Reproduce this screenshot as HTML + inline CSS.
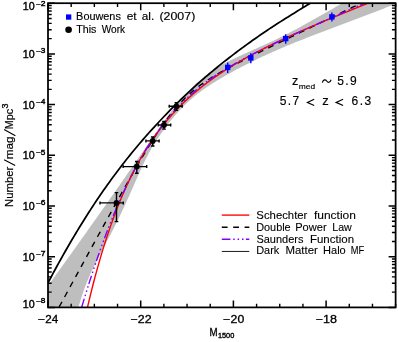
<!DOCTYPE html>
<html><head><meta charset="utf-8"><title>LF</title>
<style>
html,body{margin:0;padding:0;background:#fff;}
svg{display:block;}
text{font-family:"Liberation Sans",sans-serif;fill:#000;stroke:#000;stroke-width:0.2px;}
#w{width:399px;height:342px;will-change:transform;}
</style></head><body><div id="w">
<svg width="399" height="342" viewBox="0 0 399 342">
<rect x="0" y="0" width="399" height="342" fill="#fff"/>
<defs><clipPath id="c"><rect x="48.00" y="3.20" width="347.62" height="304.20"/></clipPath></defs>
<g clip-path="url(#c)" fill="none" stroke-linecap="butt" stroke-linejoin="round">
<path d="M29.46,310.76 L30.80,308.97 L32.14,307.18 L33.48,305.39 L34.82,303.59 L36.16,301.79 L37.50,299.98 L38.84,298.18 L40.18,296.36 L41.52,294.55 L42.86,292.73 L44.20,290.91 L45.54,289.08 L46.88,287.25 L48.22,285.42 L49.56,283.59 L50.90,281.75 L52.24,279.91 L53.58,278.07 L54.92,276.22 L56.26,274.37 L57.61,272.52 L58.95,270.67 L60.29,268.81 L61.63,266.95 L62.97,265.09 L64.31,263.23 L65.65,261.36 L66.99,259.49 L68.33,257.62 L69.67,255.75 L71.01,253.88 L72.35,252.00 L73.69,250.12 L75.03,248.24 L76.37,246.36 L77.71,244.48 L79.05,242.59 L80.39,240.71 L81.73,238.82 L83.07,236.93 L84.41,235.05 L85.75,233.16 L87.09,231.26 L88.43,229.37 L89.77,227.48 L91.11,225.59 L92.45,223.69 L93.79,221.80 L95.13,219.91 L96.47,218.01 L97.81,216.12 L99.15,214.22 L100.49,212.33 L101.83,210.43 L103.17,208.54 L104.51,206.64 L105.85,204.74 L107.19,202.83 L108.53,200.93 L109.87,199.03 L111.21,197.12 L112.55,195.21 L113.90,193.30 L115.24,191.38 L116.58,189.47 L117.92,187.55 L119.26,185.63 L120.60,183.70 L121.94,181.78 L123.28,179.85 L124.62,177.92 L125.96,175.99 L127.30,174.05 L128.64,172.12 L129.98,170.18 L131.32,168.25 L132.66,166.31 L134.00,164.37 L135.34,162.43 L136.68,160.48 L138.02,158.54 L139.36,156.60 L140.70,154.65 L142.04,152.71 L143.38,150.76 L144.72,148.81 L146.06,146.87 L147.40,144.93 L148.74,142.98 L150.08,141.04 L151.42,139.10 L152.76,137.17 L154.10,135.23 L155.44,133.31 L156.78,131.38 L158.12,129.47 L159.46,127.56 L160.80,125.66 L162.14,123.78 L163.48,121.91 L164.82,120.06 L166.16,118.22 L167.50,116.41 L168.85,114.61 L170.19,112.83 L171.53,111.08 L172.87,109.35 L174.21,107.65 L175.55,105.97 L176.89,104.32 L178.23,102.70 L179.57,101.10 L180.91,99.53 L182.25,97.99 L183.59,96.48 L184.93,95.00 L186.27,93.54 L187.61,92.11 L188.95,90.71 L190.29,89.34 L191.63,88.00 L192.97,86.68 L194.31,85.38 L195.65,84.12 L196.99,82.87 L198.33,81.66 L199.67,80.47 L201.01,79.30 L202.35,78.16 L203.69,77.05 L205.03,75.97 L206.37,74.91 L207.71,73.88 L209.05,72.88 L210.39,71.90 L211.73,70.96 L213.07,70.05 L214.41,69.16 L215.75,68.31 L217.09,67.48 L218.43,66.69 L219.77,65.91 L221.11,65.16 L222.45,64.43 L223.79,63.72 L225.14,63.02 L226.48,62.34 L227.82,61.67 L229.16,61.00 L230.50,60.34 L231.84,59.69 L233.18,59.05 L234.52,58.41 L235.86,57.78 L237.20,57.15 L238.54,56.53 L239.88,55.91 L241.22,55.30 L242.56,54.69 L243.90,54.08 L245.24,53.47 L246.58,52.87 L247.92,52.26 L249.26,51.66 L250.60,51.06 L251.94,50.46 L253.28,49.86 L254.62,49.26 L255.96,48.66 L257.30,48.05 L258.64,47.45 L259.98,46.85 L261.32,46.24 L262.66,45.63 L264.00,45.02 L265.34,44.41 L266.68,43.80 L268.02,43.18 L269.36,42.56 L270.70,41.93 L272.04,41.30 L273.38,40.67 L274.72,40.04 L276.06,39.39 L277.40,38.75 L278.74,38.10 L280.09,37.44 L281.43,36.78 L282.77,36.11 L284.11,35.44 L285.45,34.76 L286.79,34.08 L288.13,33.40 L289.47,32.71 L290.81,32.01 L292.15,31.31 L293.49,30.61 L294.83,29.90 L296.17,29.18 L297.51,28.47 L298.85,27.75 L300.19,27.02 L301.53,26.30 L302.87,25.57 L304.21,24.83 L305.55,24.09 L306.89,23.35 L308.23,22.61 L309.57,21.87 L310.91,21.12 L312.25,20.37 L313.59,19.61 L314.93,18.86 L316.27,18.10 L317.61,17.34 L318.95,16.58 L320.29,15.82 L321.63,15.05 L322.97,14.29 L324.31,13.52 L325.65,12.75 L326.99,11.99 L328.33,11.22 L329.67,10.45 L331.01,9.67 L332.35,8.90 L333.69,8.13 L335.03,7.36 L336.38,6.59 L337.72,5.82 L339.06,5.05 L340.40,4.28 L341.74,3.51 L343.08,2.74 L344.42,1.97 L345.76,1.20 L347.10,0.43 L348.44,-0.33 L349.78,-1.10 L351.12,-1.86 L352.46,-2.62 L353.80,-3.38 L355.14,-4.14 L356.48,-4.89 L357.82,-5.64 L359.16,-6.40 L360.50,-7.14 L361.84,-7.89 L363.18,-8.63 L402.58,0.77 L401.26,1.33 L399.93,1.89 L398.61,2.44 L397.29,2.99 L395.97,3.54 L394.65,4.09 L393.33,4.63 L392.00,5.18 L390.68,5.72 L389.36,6.25 L388.04,6.79 L386.72,7.32 L385.40,7.85 L384.07,8.38 L382.75,8.91 L381.43,9.43 L380.11,9.95 L378.79,10.47 L377.47,10.99 L376.14,11.51 L374.82,12.02 L373.50,12.54 L372.18,13.05 L370.86,13.56 L369.54,14.07 L368.22,14.58 L366.89,15.08 L365.57,15.59 L364.25,16.09 L362.93,16.60 L361.61,17.10 L360.29,17.60 L358.96,18.10 L357.64,18.60 L356.32,19.10 L355.00,19.60 L353.68,20.09 L352.36,20.59 L351.03,21.09 L349.71,21.58 L348.39,22.08 L347.07,22.57 L345.75,23.07 L344.43,23.56 L343.10,24.06 L341.78,24.55 L340.46,25.04 L339.14,25.54 L337.82,26.03 L336.50,26.53 L335.17,27.02 L333.85,27.52 L332.53,28.01 L331.21,28.51 L329.89,29.01 L328.57,29.51 L327.24,30.00 L325.92,30.50 L324.60,31.00 L323.28,31.50 L321.96,32.00 L320.64,32.51 L319.32,33.01 L317.99,33.51 L316.67,34.02 L315.35,34.53 L314.03,35.03 L312.71,35.54 L311.39,36.05 L310.06,36.57 L308.74,37.08 L307.42,37.60 L306.10,38.11 L304.78,38.63 L303.46,39.15 L302.13,39.68 L300.81,40.20 L299.49,40.73 L298.17,41.26 L296.85,41.79 L295.53,42.32 L294.20,42.86 L292.88,43.39 L291.56,43.94 L290.24,44.48 L288.92,45.02 L287.60,45.57 L286.27,46.12 L284.95,46.68 L283.63,47.24 L282.31,47.80 L280.99,48.36 L279.67,48.92 L278.34,49.49 L277.02,50.07 L275.70,50.64 L274.38,51.22 L273.06,51.81 L271.74,52.39 L270.41,52.99 L269.09,53.58 L267.77,54.18 L266.45,54.78 L265.13,55.39 L263.81,56.00 L262.49,56.62 L261.16,57.24 L259.84,57.86 L258.52,58.49 L257.20,59.12 L255.88,59.76 L254.56,60.40 L253.23,61.05 L251.91,61.70 L250.59,62.35 L249.27,63.01 L247.95,63.67 L246.63,64.34 L245.30,65.01 L243.98,65.68 L242.66,66.36 L241.34,67.04 L240.02,67.73 L238.70,68.42 L237.37,69.12 L236.05,69.82 L234.73,70.53 L233.41,71.24 L232.09,71.95 L230.77,72.68 L229.44,73.40 L228.12,74.14 L226.80,74.88 L225.48,75.62 L224.16,76.38 L222.84,77.14 L221.51,77.91 L220.19,78.68 L218.87,79.47 L217.55,80.26 L216.23,81.07 L214.91,81.88 L213.58,82.71 L212.26,83.54 L210.94,84.39 L209.62,85.25 L208.30,86.13 L206.98,87.02 L205.66,87.93 L204.33,88.85 L203.01,89.79 L201.69,90.74 L200.37,91.72 L199.05,92.72 L197.73,93.74 L196.40,94.78 L195.08,95.84 L193.76,96.93 L192.44,98.04 L191.12,99.18 L189.80,100.35 L188.47,101.55 L187.15,102.77 L185.83,104.02 L184.51,105.31 L183.19,106.63 L181.87,107.97 L180.54,109.35 L179.22,110.77 L177.90,112.22 L176.58,113.70 L175.26,115.21 L173.94,116.76 L172.61,118.34 L171.29,119.95 L169.97,121.60 L168.65,123.28 L167.33,124.99 L166.01,126.73 L164.68,128.50 L163.36,130.31 L162.04,132.14 L160.72,133.99 L159.40,135.88 L158.08,137.81 L156.75,139.79 L155.43,141.82 L154.11,143.92 L152.79,146.09 L151.47,148.34 L150.15,150.68 L148.83,153.11 L147.50,155.64 L146.18,158.26 L144.86,160.96 L143.54,163.73 L142.22,166.56 L140.90,169.44 L139.57,172.37 L138.25,175.32 L136.93,178.29 L135.61,181.27 L134.29,184.26 L132.97,187.24 L131.64,190.22 L130.32,193.19 L129.00,196.15 L127.68,199.09 L126.36,202.01 L125.04,204.91 L123.71,207.78 L122.39,210.61 L121.07,213.41 L119.75,216.17 L118.43,218.89 L117.11,221.57 L115.78,224.21 L114.46,226.83 L113.14,229.41 L111.82,231.98 L110.50,234.52 L109.18,237.05 L107.85,239.57 L106.53,242.08 L105.21,244.59 L103.89,247.10 L102.57,249.61 L101.25,252.13 L99.93,254.67 L98.60,257.22 L97.28,259.79 L95.96,262.39 L94.64,265.02 L93.32,267.71 L92.00,270.47 L90.67,273.32 L89.35,276.28 L88.03,279.38 L86.71,282.62 L85.39,286.04 L84.07,289.64 L82.74,293.44 L81.42,297.45 L80.10,301.66 L78.78,306.07 L77.46,310.70 L76.14,315.53 L74.81,320.57 L73.49,325.83 L20,325.8 Z" fill="#bebebe" stroke="none"/>
<path d="M38.73,344.37 L39.95,342.13 L41.18,339.88 L42.40,337.64 L43.63,335.39 L44.85,333.15 L46.08,330.90 L47.30,328.66 L48.53,326.41 L49.75,324.17 L50.98,321.92 L52.20,319.68 L53.43,317.44 L54.65,315.19 L55.87,312.95 L57.10,310.70 L58.32,308.46 L59.55,306.21 L60.77,303.97 L62.00,301.73 L63.22,299.48 L64.45,297.24 L65.67,294.99 L66.90,292.75 L68.12,290.51 L69.35,288.26 L70.57,286.02 L71.80,283.78 L73.02,281.54 L74.24,279.29 L75.47,277.05 L76.69,274.81 L77.92,272.57 L79.14,270.33 L80.37,268.09 L81.59,265.84 L82.82,263.60 L84.04,261.36 L85.27,259.12 L86.49,256.89 L87.72,254.65 L88.94,252.41 L90.16,250.17 L91.39,247.94 L92.61,245.70 L93.84,243.46 L95.06,241.23 L96.29,239.00 L97.51,236.76 L98.74,234.53 L99.96,232.30 L101.19,230.07 L102.41,227.84 L103.64,225.61 L104.86,223.39 L106.08,221.16 L107.31,218.94 L108.53,216.72 L109.76,214.50 L110.98,212.29 L112.21,210.07 L113.43,207.86 L114.66,205.65 L115.88,203.44 L117.11,201.24 L118.33,199.04 L119.56,196.84 L120.78,194.64 L122.00,192.45 L123.23,190.27 L124.45,188.09 L125.68,185.91 L126.90,183.74 L128.13,181.57 L129.35,179.41 L130.58,177.26 L131.80,175.11 L133.03,172.97 L134.25,170.84 L135.48,168.71 L136.70,166.60 L137.93,164.49 L139.15,162.40 L140.37,160.31 L141.60,158.23 L142.82,156.17 L144.05,154.12 L145.27,152.08 L146.50,150.06 L147.72,148.05 L148.95,146.06 L150.17,144.09 L151.40,142.13 L152.62,140.19 L153.85,138.27 L155.07,136.36 L156.29,134.48 L157.52,132.63 L158.74,130.79 L159.97,128.98 L161.19,127.19 L162.42,125.43 L163.64,123.69 L164.87,121.99 L166.09,120.30 L167.32,118.65 L168.54,117.03 L169.77,115.43 L170.99,113.87 L172.21,112.33 L173.44,110.83 L174.66,109.36 L175.89,107.91 L177.11,106.50 L178.34,105.12 L179.56,103.78 L180.79,102.46 L182.01,101.17 L183.24,99.91 L184.46,98.69 L185.69,97.49 L186.91,96.32 L188.14,95.18 L189.36,94.06 L190.58,92.97 L191.81,91.91 L193.03,90.87 L194.26,89.86 L195.48,88.87 L196.71,87.90 L197.93,86.96 L199.16,86.03 L200.38,85.13 L201.61,84.24 L202.83,83.37 L204.06,82.52 L205.28,81.68 L206.50,80.86 L207.73,80.05 L208.95,79.26 L210.18,78.48 L211.40,77.71 L212.63,76.96 L213.85,76.21 L215.08,75.48 L216.30,74.75 L217.53,74.04 L218.75,73.33 L219.98,72.63 L221.20,71.94 L222.42,71.25 L223.65,70.58 L224.87,69.90 L226.10,69.24 L227.32,68.57 L228.55,67.92 L229.77,67.27 L231.00,66.62 L232.22,65.97 L233.45,65.33 L234.67,64.70 L235.90,64.07 L237.12,63.44 L238.35,62.81 L239.57,62.18 L240.79,61.56 L242.02,60.94 L243.24,60.32 L244.47,59.71 L245.69,59.09 L246.92,58.48 L248.14,57.87 L249.37,57.26 L250.59,56.65 L251.82,56.05 L253.04,55.44 L254.27,54.84 L255.49,54.23 L256.71,53.63 L257.94,53.03 L259.16,52.43 L260.39,51.83 L261.61,51.23 L262.84,50.63 L264.06,50.04 L265.29,49.44 L266.51,48.84 L267.74,48.24 L268.96,47.65 L270.19,47.05 L271.41,46.46 L272.63,45.86 L273.86,45.27 L275.08,44.68 L276.31,44.08 L277.53,43.49 L278.76,42.89 L279.98,42.30 L281.21,41.71 L282.43,41.12 L283.66,40.52 L284.88,39.93 L286.11,39.34 L287.33,38.75 L288.55,38.16 L289.78,37.56 L291.00,36.97 L292.23,36.38 L293.45,35.79 L294.68,35.20 L295.90,34.61 L297.13,34.02 L298.35,33.42 L299.58,32.83 L300.80,32.24 L302.03,31.65 L303.25,31.06 L304.48,30.47 L305.70,29.88 L306.92,29.29 L308.15,28.70 L309.37,28.11 L310.60,27.52 L311.82,26.93 L313.05,26.34 L314.27,25.75 L315.50,25.15 L316.72,24.56 L317.95,23.97 L319.17,23.38 L320.40,22.79 L321.62,22.20 L322.84,21.61 L324.07,21.02 L325.29,20.43 L326.52,19.84 L327.74,19.25 L328.97,18.66 L330.19,18.07 L331.42,17.48 L332.64,16.89 L333.87,16.30 L335.09,15.71 L336.32,15.12 L337.54,14.53 L338.76,13.94 L339.99,13.35 L341.21,12.76 L342.44,12.17 L343.66,11.58 L344.89,10.99 L346.11,10.40 L347.34,9.81 L348.56,9.22 L349.79,8.63 L351.01,8.04 L352.24,7.45 L353.46,6.86 L354.69,6.27 L355.91,5.68 L357.13,5.09 L358.36,4.50 L359.58,3.91 L360.81,3.32 L362.03,2.73 L363.26,2.14 L364.48,1.55 L365.71,0.96 L366.93,0.37 L368.16,-0.22 L369.38,-0.81 L370.61,-1.40 L371.83,-1.99 L373.05,-2.58 L374.28,-3.17 L375.50,-3.76 L376.73,-4.35 L377.95,-4.94 L379.18,-5.53 L380.40,-6.12 L381.63,-6.71 L382.85,-7.31 L384.08,-7.90 L385.30,-8.49 L386.53,-9.08 L387.75,-9.67 L388.97,-10.26 L390.20,-10.85 L391.42,-11.44 L392.65,-12.03 L393.87,-12.62 L395.10,-13.21 L396.32,-13.80 L397.55,-14.39 L398.77,-14.98 L400.00,-15.57 L401.22,-16.16 L402.45,-16.75 L403.67,-17.34 L404.89,-17.93" stroke="#000" stroke-width="1.4" stroke-dasharray="5.9 5.5" stroke-dashoffset="3"/>
<path d="M75.47,365.04 L76.69,358.56 L77.92,352.22 L79.14,346.03 L80.37,339.97 L81.59,334.05 L82.82,328.26 L84.04,322.60 L85.27,317.06 L86.49,311.64 L87.72,306.35 L88.94,301.17 L90.16,296.10 L91.39,291.14 L92.61,286.29 L93.84,281.55 L95.06,276.90 L96.29,272.36 L97.51,267.92 L98.74,263.57 L99.96,259.32 L101.19,255.15 L102.41,251.08 L103.64,247.09 L104.86,243.18 L106.08,239.36 L107.31,235.62 L108.53,231.96 L109.76,228.37 L110.98,224.86 L112.21,221.42 L113.43,218.06 L114.66,214.76 L115.88,211.53 L117.11,208.37 L118.33,205.27 L119.56,202.24 L120.78,199.26 L122.00,196.35 L123.23,193.50 L124.45,190.70 L125.68,187.96 L126.90,185.27 L128.13,182.64 L129.35,180.06 L130.58,177.53 L131.80,175.05 L133.03,172.61 L134.25,170.23 L135.48,167.89 L136.70,165.59 L137.93,163.34 L139.15,161.13 L140.37,158.97 L141.60,156.84 L142.82,154.76 L144.05,152.71 L145.27,150.70 L146.50,148.73 L147.72,146.79 L148.95,144.89 L150.17,143.02 L151.40,141.19 L152.62,139.39 L153.85,137.62 L155.07,135.88 L156.29,134.18 L157.52,132.50 L158.74,130.85 L159.97,129.23 L161.19,127.64 L162.42,126.08 L163.64,124.54 L164.87,123.02 L166.09,121.54 L167.32,120.07 L168.54,118.63 L169.77,117.21 L170.99,115.82 L172.21,114.45 L173.44,113.10 L174.66,111.77 L175.89,110.46 L177.11,109.17 L178.34,107.91 L179.56,106.66 L180.79,105.42 L182.01,104.21 L183.24,103.02 L184.46,101.84 L185.69,100.68 L186.91,99.54 L188.14,98.41 L189.36,97.30 L190.58,96.20 L191.81,95.12 L193.03,94.05 L194.26,93.00 L195.48,91.96 L196.71,90.94 L197.93,89.92 L199.16,88.93 L200.38,87.94 L201.61,86.97 L202.83,86.01 L204.06,85.06 L205.28,84.12 L206.50,83.19 L207.73,82.27 L208.95,81.37 L210.18,80.47 L211.40,79.59 L212.63,78.71 L213.85,77.85 L215.08,76.99 L216.30,76.15 L217.53,75.31 L218.75,74.48 L219.98,73.66 L221.20,72.85 L222.42,72.05 L223.65,71.25 L224.87,70.46 L226.10,69.68 L227.32,68.91 L228.55,68.15 L229.77,67.39 L231.00,66.64 L232.22,65.89 L233.45,65.15 L234.67,64.42 L235.90,63.70 L237.12,62.98 L238.35,62.26 L239.57,61.56 L240.79,60.85 L242.02,60.16 L243.24,59.47 L244.47,58.78 L245.69,58.10 L246.92,57.42 L248.14,56.75 L249.37,56.09 L250.59,55.43 L251.82,54.77 L253.04,54.12 L254.27,53.47 L255.49,52.83 L256.71,52.19 L257.94,51.55 L259.16,50.92 L260.39,50.29 L261.61,49.67 L262.84,49.05 L264.06,48.43 L265.29,47.82 L266.51,47.21 L267.74,46.60 L268.96,46.00 L270.19,45.40 L271.41,44.80 L272.63,44.21 L273.86,43.62 L275.08,43.03 L276.31,42.44 L277.53,41.86 L278.76,41.28 L279.98,40.70 L281.21,40.13 L282.43,39.56 L283.66,38.99 L284.88,38.42 L286.11,37.85 L287.33,37.29 L288.55,36.73 L289.78,36.17 L291.00,35.62 L292.23,35.06 L293.45,34.51 L294.68,33.96 L295.90,33.41 L297.13,32.86 L298.35,32.32 L299.58,31.77 L300.80,31.23 L302.03,30.69 L303.25,30.16 L304.48,29.62 L305.70,29.08 L306.92,28.55 L308.15,28.02 L309.37,27.49 L310.60,26.96 L311.82,26.43 L313.05,25.91 L314.27,25.38 L315.50,24.86 L316.72,24.33 L317.95,23.81 L319.17,23.29 L320.40,22.77 L321.62,22.26 L322.84,21.74 L324.07,21.22 L325.29,20.71 L326.52,20.20 L327.74,19.68 L328.97,19.17 L330.19,18.66 L331.42,18.15 L332.64,17.64 L333.87,17.14 L335.09,16.63 L336.32,16.12 L337.54,15.62 L338.76,15.11 L339.99,14.61 L341.21,14.11 L342.44,13.60 L343.66,13.10 L344.89,12.60 L346.11,12.10 L347.34,11.60 L348.56,11.10 L349.79,10.61 L351.01,10.11 L352.24,9.61 L353.46,9.12 L354.69,8.62 L355.91,8.13 L357.13,7.63 L358.36,7.14 L359.58,6.64 L360.81,6.15 L362.03,5.66 L363.26,5.17 L364.48,4.68 L365.71,4.19 L366.93,3.70 L368.16,3.21 L369.38,2.72 L370.61,2.23 L371.83,1.74 L373.05,1.25 L374.28,0.76 L375.50,0.27 L376.73,-0.21 L377.95,-0.70 L379.18,-1.18 L380.40,-1.67 L381.63,-2.16 L382.85,-2.64 L384.08,-3.13 L385.30,-3.61 L386.53,-4.10 L387.75,-4.58 L388.97,-5.06 L390.20,-5.55 L391.42,-6.03 L392.65,-6.51 L393.87,-6.99 L395.10,-7.48 L396.32,-7.96 L397.55,-8.44 L398.77,-8.92 L400.00,-9.40 L401.22,-9.88 L402.45,-10.37 L403.67,-10.85 L404.89,-11.33" stroke="#ff0000" stroke-width="1.4"/>
<path d="M65.67,365.06 L66.90,360.36 L68.12,355.70 L69.35,351.09 L70.57,346.53 L71.80,342.02 L73.02,337.55 L74.24,333.13 L75.47,328.75 L76.69,324.42 L77.92,320.13 L79.14,315.90 L80.37,311.70 L81.59,307.56 L82.82,303.46 L84.04,299.40 L85.27,295.39 L86.49,291.42 L87.72,287.50 L88.94,283.63 L90.16,279.80 L91.39,276.02 L92.61,272.27 L93.84,268.58 L95.06,264.93 L96.29,261.32 L97.51,257.76 L98.74,254.24 L99.96,250.76 L101.19,247.33 L102.41,243.94 L103.64,240.59 L104.86,237.29 L106.08,234.03 L107.31,230.81 L108.53,227.63 L109.76,224.50 L110.98,221.41 L112.21,218.36 L113.43,215.35 L114.66,212.38 L115.88,209.45 L117.11,206.56 L118.33,203.72 L119.56,200.91 L120.78,198.15 L122.00,195.42 L123.23,192.73 L124.45,190.08 L125.68,187.47 L126.90,184.90 L128.13,182.36 L129.35,179.87 L130.58,177.41 L131.80,174.99 L133.03,172.60 L134.25,170.25 L135.48,167.94 L136.70,165.66 L137.93,163.42 L139.15,161.22 L140.37,159.04 L141.60,156.91 L142.82,154.80 L144.05,152.73 L145.27,150.69 L146.50,148.69 L147.72,146.72 L148.95,144.78 L150.17,142.87 L151.40,140.99 L152.62,139.14 L153.85,137.33 L155.07,135.54 L156.29,133.78 L157.52,132.06 L158.74,130.36 L159.97,128.69 L161.19,127.04 L162.42,125.43 L163.64,123.84 L164.87,122.28 L166.09,120.74 L167.32,119.23 L168.54,117.74 L169.77,116.28 L170.99,114.85 L172.21,113.44 L173.44,112.05 L174.66,110.68 L175.89,109.34 L177.11,108.02 L178.34,106.72 L179.56,105.44 L180.79,104.19 L182.01,102.95 L183.24,101.74 L184.46,100.54 L185.69,99.36 L186.91,98.21 L188.14,97.07 L189.36,95.95 L190.58,94.84 L191.81,93.76 L193.03,92.69 L194.26,91.64 L195.48,90.60 L196.71,89.58 L197.93,88.57 L199.16,87.58 L200.38,86.61 L201.61,85.64 L202.83,84.70 L204.06,83.76 L205.28,82.84 L206.50,81.93 L207.73,81.03 L208.95,80.15 L210.18,79.28 L211.40,78.42 L212.63,77.57 L213.85,76.73 L215.08,75.90 L216.30,75.08 L217.53,74.27 L218.75,73.47 L219.98,72.68 L221.20,71.90 L222.42,71.13 L223.65,70.37 L224.87,69.61 L226.10,68.86 L227.32,68.12 L228.55,67.39 L229.77,66.67 L231.00,65.95 L232.22,65.24 L233.45,64.53 L234.67,63.84 L235.90,63.14 L237.12,62.46 L238.35,61.78 L239.57,61.10 L240.79,60.43 L242.02,59.77 L243.24,59.11 L244.47,58.46 L245.69,57.81 L246.92,57.16 L248.14,56.52 L249.37,55.88 L250.59,55.25 L251.82,54.62 L253.04,54.00 L254.27,53.37 L255.49,52.76 L256.71,52.14 L257.94,51.53 L259.16,50.92 L260.39,50.31 L261.61,49.71 L262.84,49.11 L264.06,48.51 L265.29,47.92 L266.51,47.33 L267.74,46.74 L268.96,46.15 L270.19,45.56 L271.41,44.98 L272.63,44.40 L273.86,43.82 L275.08,43.24 L276.31,42.66 L277.53,42.09 L278.76,41.52 L279.98,40.95 L281.21,40.38 L282.43,39.81 L283.66,39.24 L284.88,38.68 L286.11,38.11 L287.33,37.55 L288.55,36.99 L289.78,36.43 L291.00,35.87 L292.23,35.31 L293.45,34.75 L294.68,34.19 L295.90,33.64 L297.13,33.08 L298.35,32.53 L299.58,31.97 L300.80,31.42 L302.03,30.87 L303.25,30.32 L304.48,29.77 L305.70,29.22 L306.92,28.67 L308.15,28.12 L309.37,27.57 L310.60,27.02 L311.82,26.48 L313.05,25.93 L314.27,25.38 L315.50,24.84 L316.72,24.29 L317.95,23.75 L319.17,23.20 L320.40,22.66 L321.62,22.12 L322.84,21.57 L324.07,21.03 L325.29,20.49 L326.52,19.94 L327.74,19.40 L328.97,18.86 L330.19,18.32 L331.42,17.78 L332.64,17.23 L333.87,16.69 L335.09,16.15 L336.32,15.61 L337.54,15.07 L338.76,14.53 L339.99,13.99 L341.21,13.45 L342.44,12.91 L343.66,12.37 L344.89,11.83 L346.11,11.29 L347.34,10.76 L348.56,10.22 L349.79,9.68 L351.01,9.14 L352.24,8.60 L353.46,8.06 L354.69,7.52 L355.91,6.98 L357.13,6.45 L358.36,5.91 L359.58,5.37 L360.81,4.83 L362.03,4.29 L363.26,3.76 L364.48,3.22 L365.71,2.68 L366.93,2.14 L368.16,1.61 L369.38,1.07 L370.61,0.53 L371.83,-0.01 L373.05,-0.54 L374.28,-1.08 L375.50,-1.62 L376.73,-2.15 L377.95,-2.69 L379.18,-3.23 L380.40,-3.77 L381.63,-4.30 L382.85,-4.84 L384.08,-5.38 L385.30,-5.91 L386.53,-6.45 L387.75,-6.99 L388.97,-7.52 L390.20,-8.06 L391.42,-8.60 L392.65,-9.13 L393.87,-9.67 L395.10,-10.21 L396.32,-10.75 L397.55,-11.28 L398.77,-11.82 L400.00,-12.35 L401.22,-12.89 L402.45,-13.43 L403.67,-13.96 L404.89,-14.50" stroke="#8000ff" stroke-width="1.4" stroke-dasharray="8.6 2.8 1.5 2.9 1.5 2.9 1.5 2.4" stroke-dashoffset="12"/>
<path d="M40.00,298.48 L41.88,294.77 L43.76,291.10 L45.64,287.45 L47.52,283.84 L49.40,280.26 L51.28,276.72 L53.15,273.20 L55.03,269.72 L56.91,266.27 L58.79,262.85 L60.67,259.47 L62.55,256.11 L64.43,252.79 L66.31,249.49 L68.19,246.23 L70.07,243.00 L71.95,239.79 L73.83,236.62 L75.70,233.47 L77.58,230.36 L79.46,227.28 L81.34,224.22 L83.22,221.19 L85.10,218.19 L86.98,215.22 L88.86,212.28 L90.74,209.37 L92.62,206.48 L94.50,203.62 L96.38,200.79 L98.26,197.98 L100.13,195.21 L102.01,192.49 L103.89,189.81 L105.77,187.14 L107.65,184.51 L109.53,181.90 L111.41,179.32 L113.29,176.76 L115.17,174.22 L117.05,171.72 L118.93,169.23 L120.81,166.77 L122.68,164.34 L124.56,161.93 L126.44,159.54 L128.32,157.18 L130.20,154.84 L132.08,152.52 L133.96,150.23 L135.84,147.96 L137.72,145.72 L139.60,143.50 L141.48,141.31 L143.36,139.13 L145.23,136.98 L147.11,134.85 L148.99,132.74 L150.87,130.65 L152.75,128.58 L154.63,126.54 L156.51,124.51 L158.39,122.50 L160.27,120.51 L162.15,118.50 L164.03,116.51 L165.91,114.53 L167.79,112.58 L169.66,110.65 L171.54,108.73 L173.42,106.83 L175.30,104.96 L177.18,103.10 L179.06,101.25 L180.94,99.43 L182.82,97.62 L184.70,95.83 L186.58,94.06 L188.46,92.30 L190.34,90.56 L192.21,88.84 L194.09,87.13 L195.97,85.44 L197.85,83.76 L199.73,82.11 L201.61,80.45 L203.49,78.81 L205.37,77.18 L207.25,75.56 L209.13,73.96 L211.01,72.38 L212.89,70.81 L214.77,69.25 L216.64,67.71 L218.52,66.18 L220.40,64.66 L222.28,63.16 L224.16,61.67 L226.04,60.19 L227.92,58.72 L229.80,57.27 L231.68,55.83 L233.56,54.39 L235.44,52.98 L237.32,51.57 L239.19,50.17 L241.07,48.78 L242.95,47.38 L244.83,46.00 L246.71,44.63 L248.59,43.27 L250.47,41.92 L252.35,40.58 L254.23,39.24 L256.11,37.92 L257.99,36.60 L259.87,35.30 L261.74,34.00 L263.62,32.71 L265.50,31.43 L267.38,30.16 L269.26,28.89 L271.14,27.65 L273.02,26.43 L274.90,25.22 L276.78,24.02 L278.66,22.82 L280.54,21.62 L282.42,20.44 L284.30,19.26 L286.17,18.08 L288.05,16.91 L289.93,15.75 L291.81,14.57 L293.69,13.39 L295.57,12.21 L297.45,11.04 L299.33,9.88 L301.21,8.72 L303.09,7.56 L304.97,6.41 L306.85,5.28 L308.72,4.16 L310.60,3.04 L312.48,1.92 L314.36,0.81 L316.24,-0.31 L318.12,-1.41 L320.00,-2.52" stroke="#000" stroke-width="1.75"/>
</g>
<g stroke="#000" stroke-width="1.4" fill="none">
<path d="M100.0,202.9 H123.3 M116.5,192.6 V221.6 M100.0,201.4 v3 M123.3,201.4 v3 M114.7,192.6 h3.6 M114.7,221.6 h3.6"/>
<circle cx="116.5" cy="202.9" r="2.9" fill="#000" stroke="none"/>
<path d="M123.1,166.6 H146.7 M136.8,161.5 V173.2 M123.1,165.1 v3 M146.7,165.1 v3 M135.0,161.5 h3.6 M135.0,173.2 h3.6"/>
<circle cx="136.8" cy="166.6" r="2.9" fill="#000" stroke="none"/>
<path d="M145.9,140.9 H159.1 M152.7,137.0 V146.0 M145.9,139.4 v3 M159.1,139.4 v3 M150.9,137.0 h3.6 M150.9,146.0 h3.6"/>
<circle cx="152.7" cy="140.9" r="2.9" fill="#000" stroke="none"/>
<path d="M158.2,125.0 H170.7 M164.0,121.5 V129.1 M158.2,123.5 v3 M170.7,123.5 v3 M162.2,121.5 h3.6 M162.2,129.1 h3.6"/>
<circle cx="164.0" cy="125.0" r="2.9" fill="#000" stroke="none"/>
<path d="M169.2,106.3 H182.2 M176.4,102.8 V110.4 M169.2,104.8 v3 M182.2,104.8 v3 M174.6,102.8 h3.6 M174.6,110.4 h3.6"/>
<circle cx="176.4" cy="106.3" r="2.9" fill="#000" stroke="none"/>
</g>
<g stroke="#0000ff" stroke-width="1.4" fill="#0000ff">
<path d="M227.7,62.4 V72.9"/>
<rect x="225.0" y="64.7" width="5.4" height="5.4" stroke="none"/>
<path d="M250.8,53.2 V63.2"/>
<rect x="248.1" y="55.2" width="5.4" height="5.4" stroke="none"/>
<path d="M285.7,34.3 V43.8"/>
<rect x="283.0" y="35.9" width="5.4" height="5.4" stroke="none"/>
<path d="M331.9,12.5 V21.5"/>
<rect x="329.2" y="14.2" width="5.4" height="5.4" stroke="none"/>
</g>
<g stroke="#000" fill="none">
<rect x="48.00" y="3.20" width="347.62" height="304.20" stroke-width="1.75"/>
<path d="M48.00,307.40 v-7 M48.00,3.20 v7 M140.70,307.40 v-7 M140.70,3.20 v7 M233.40,307.40 v-7 M233.40,3.20 v7 M326.10,307.40 v-7 M326.10,3.20 v7 M48.00,307.40 h7 M395.62,307.40 h-7 M48.00,256.70 h7 M395.62,256.70 h-7 M48.00,206.00 h7 M395.62,206.00 h-7 M48.00,155.30 h7 M395.62,155.30 h-7 M48.00,104.60 h7 M395.62,104.60 h-7 M48.00,53.90 h7 M395.62,53.90 h-7 M48.00,3.20 h7 M395.62,3.20 h-7" stroke-width="1.5"/>
<path d="M71.17,307.40 v-3.7 M71.17,3.20 v3.7 M94.35,307.40 v-3.7 M94.35,3.20 v3.7 M117.53,307.40 v-3.7 M117.53,3.20 v3.7 M163.88,307.40 v-3.7 M163.88,3.20 v3.7 M187.05,307.40 v-3.7 M187.05,3.20 v3.7 M210.22,307.40 v-3.7 M210.22,3.20 v3.7 M256.58,307.40 v-3.7 M256.58,3.20 v3.7 M279.75,307.40 v-3.7 M279.75,3.20 v3.7 M302.93,307.40 v-3.7 M302.93,3.20 v3.7 M349.28,307.40 v-3.7 M349.28,3.20 v3.7 M372.45,307.40 v-3.7 M372.45,3.20 v3.7 M395.62,307.40 v-3.7 M395.62,3.20 v3.7 M48.00,292.14 h3.7 M395.62,292.14 h-3.7 M48.00,283.21 h3.7 M395.62,283.21 h-3.7 M48.00,276.88 h3.7 M395.62,276.88 h-3.7 M48.00,271.96 h3.7 M395.62,271.96 h-3.7 M48.00,267.95 h3.7 M395.62,267.95 h-3.7 M48.00,264.55 h3.7 M395.62,264.55 h-3.7 M48.00,261.61 h3.7 M395.62,261.61 h-3.7 M48.00,259.02 h3.7 M395.62,259.02 h-3.7 M48.00,241.44 h3.7 M395.62,241.44 h-3.7 M48.00,232.51 h3.7 M395.62,232.51 h-3.7 M48.00,226.18 h3.7 M395.62,226.18 h-3.7 M48.00,221.26 h3.7 M395.62,221.26 h-3.7 M48.00,217.25 h3.7 M395.62,217.25 h-3.7 M48.00,213.85 h3.7 M395.62,213.85 h-3.7 M48.00,210.91 h3.7 M395.62,210.91 h-3.7 M48.00,208.32 h3.7 M395.62,208.32 h-3.7 M48.00,190.74 h3.7 M395.62,190.74 h-3.7 M48.00,181.81 h3.7 M395.62,181.81 h-3.7 M48.00,175.48 h3.7 M395.62,175.48 h-3.7 M48.00,170.56 h3.7 M395.62,170.56 h-3.7 M48.00,166.55 h3.7 M395.62,166.55 h-3.7 M48.00,163.15 h3.7 M395.62,163.15 h-3.7 M48.00,160.21 h3.7 M395.62,160.21 h-3.7 M48.00,157.62 h3.7 M395.62,157.62 h-3.7 M48.00,140.04 h3.7 M395.62,140.04 h-3.7 M48.00,131.11 h3.7 M395.62,131.11 h-3.7 M48.00,124.78 h3.7 M395.62,124.78 h-3.7 M48.00,119.86 h3.7 M395.62,119.86 h-3.7 M48.00,115.85 h3.7 M395.62,115.85 h-3.7 M48.00,112.45 h3.7 M395.62,112.45 h-3.7 M48.00,109.51 h3.7 M395.62,109.51 h-3.7 M48.00,106.92 h3.7 M395.62,106.92 h-3.7 M48.00,89.34 h3.7 M395.62,89.34 h-3.7 M48.00,80.41 h3.7 M395.62,80.41 h-3.7 M48.00,74.08 h3.7 M395.62,74.08 h-3.7 M48.00,69.16 h3.7 M395.62,69.16 h-3.7 M48.00,65.15 h3.7 M395.62,65.15 h-3.7 M48.00,61.75 h3.7 M395.62,61.75 h-3.7 M48.00,58.81 h3.7 M395.62,58.81 h-3.7 M48.00,56.22 h3.7 M395.62,56.22 h-3.7 M48.00,38.64 h3.7 M395.62,38.64 h-3.7 M48.00,29.71 h3.7 M395.62,29.71 h-3.7 M48.00,23.38 h3.7 M395.62,23.38 h-3.7 M48.00,18.46 h3.7 M395.62,18.46 h-3.7 M48.00,14.45 h3.7 M395.62,14.45 h-3.7 M48.00,11.05 h3.7 M395.62,11.05 h-3.7 M48.00,8.11 h3.7 M395.62,8.11 h-3.7 M48.00,5.52 h3.7 M395.62,5.52 h-3.7" stroke-width="1.4"/>
</g>
<g fill="none">
<path d="M221.8,215.1 H249.3" stroke="#ff0000" stroke-width="1.35"/>
<path d="M221.8,227.2 H249.3" stroke="#000" stroke-width="1.35" stroke-dasharray="5.8 5.6"/>
<path d="M221.8,239.2 H249.3" stroke="#8000ff" stroke-width="1.35" stroke-dasharray="8.6 2.8 1.5 2.9 1.5 2.9 1.5 2.4"/>
<path d="M221.8,251.45 H249.3" stroke="#000" stroke-width="0.9"/>
</g>
<rect x="66" y="14.4" width="5.3" height="5.3" fill="#0000ff"/>
<circle cx="68.6" cy="29.8" r="3.3" fill="#000"/>
<text x="22.80" y="10.40" font-size="10.60" textLength="11.85" lengthAdjust="spacingAndGlyphs" style="stroke-width:0.40px">10</text>
<text x="35.89" y="6.50" font-size="7.00" textLength="4.82" lengthAdjust="spacingAndGlyphs" style="stroke-width:0.40px">−</text>
<text x="40.67" y="5.80" font-size="7.00" textLength="4.77" lengthAdjust="spacingAndGlyphs" style="stroke-width:0.40px">2</text>
<text x="22.80" y="57.80" font-size="10.60" textLength="11.85" lengthAdjust="spacingAndGlyphs" style="stroke-width:0.40px">10</text>
<text x="35.89" y="53.90" font-size="7.00" textLength="4.82" lengthAdjust="spacingAndGlyphs" style="stroke-width:0.40px">−</text>
<text x="40.77" y="53.20" font-size="7.00" textLength="4.62" lengthAdjust="spacingAndGlyphs" style="stroke-width:0.40px">3</text>
<text x="22.80" y="108.50" font-size="10.60" textLength="11.85" lengthAdjust="spacingAndGlyphs" style="stroke-width:0.40px">10</text>
<text x="35.89" y="104.60" font-size="7.00" textLength="4.82" lengthAdjust="spacingAndGlyphs" style="stroke-width:0.40px">−</text>
<text x="40.91" y="103.90" font-size="7.00" textLength="4.34" lengthAdjust="spacingAndGlyphs" style="stroke-width:0.40px">4</text>
<text x="22.80" y="159.20" font-size="10.60" textLength="11.85" lengthAdjust="spacingAndGlyphs" style="stroke-width:0.40px">10</text>
<text x="35.89" y="155.30" font-size="7.00" textLength="4.82" lengthAdjust="spacingAndGlyphs" style="stroke-width:0.40px">−</text>
<text x="40.77" y="154.60" font-size="7.00" textLength="4.57" lengthAdjust="spacingAndGlyphs" style="stroke-width:0.40px">5</text>
<text x="22.80" y="209.90" font-size="10.60" textLength="11.85" lengthAdjust="spacingAndGlyphs" style="stroke-width:0.40px">10</text>
<text x="35.89" y="206.00" font-size="7.00" textLength="4.82" lengthAdjust="spacingAndGlyphs" style="stroke-width:0.40px">−</text>
<text x="40.68" y="205.30" font-size="7.00" textLength="4.72" lengthAdjust="spacingAndGlyphs" style="stroke-width:0.40px">6</text>
<text x="22.80" y="260.80" font-size="10.60" textLength="11.85" lengthAdjust="spacingAndGlyphs" style="stroke-width:0.40px">10</text>
<text x="35.89" y="256.90" font-size="7.00" textLength="4.82" lengthAdjust="spacingAndGlyphs" style="stroke-width:0.40px">−</text>
<text x="40.67" y="256.20" font-size="7.00" textLength="4.77" lengthAdjust="spacingAndGlyphs" style="stroke-width:0.40px">7</text>
<text x="22.80" y="307.90" font-size="10.60" textLength="11.85" lengthAdjust="spacingAndGlyphs" style="stroke-width:0.40px">10</text>
<text x="35.89" y="304.00" font-size="7.00" textLength="4.82" lengthAdjust="spacingAndGlyphs" style="stroke-width:0.40px">−</text>
<text x="40.73" y="303.30" font-size="7.00" textLength="4.62" lengthAdjust="spacingAndGlyphs" style="stroke-width:0.40px">8</text>
<text x="37.48" y="323.20" font-size="10.70" textLength="7.22" lengthAdjust="spacingAndGlyphs" style="stroke-width:0.30px">−</text>
<text x="45.22" y="323.20" font-size="10.70" textLength="12.96" lengthAdjust="spacingAndGlyphs" style="stroke-width:0.30px">24</text>
<text x="130.18" y="323.20" font-size="10.70" textLength="7.22" lengthAdjust="spacingAndGlyphs" style="stroke-width:0.30px">−</text>
<text x="137.88" y="323.20" font-size="10.70" textLength="13.77" lengthAdjust="spacingAndGlyphs" style="stroke-width:0.30px">22</text>
<text x="222.88" y="323.20" font-size="10.70" textLength="7.22" lengthAdjust="spacingAndGlyphs" style="stroke-width:0.30px">−</text>
<text x="230.59" y="323.20" font-size="10.70" textLength="13.63" lengthAdjust="spacingAndGlyphs" style="stroke-width:0.30px">20</text>
<text x="315.58" y="323.20" font-size="10.70" textLength="7.22" lengthAdjust="spacingAndGlyphs" style="stroke-width:0.30px">−</text>
<text x="322.96" y="323.20" font-size="10.70" textLength="13.97" lengthAdjust="spacingAndGlyphs" style="stroke-width:0.30px">18</text>
<text x="209.42" y="335.70" font-size="10.80" textLength="8.08" lengthAdjust="spacingAndGlyphs" style="stroke-width:0.30px">M</text>
<text x="217.95" y="338.30" font-size="6.80" textLength="16.34" lengthAdjust="spacingAndGlyphs" style="stroke-width:0.35px">1500</text>
<text x="256.39" y="218.80" font-size="10.80" textLength="51.01" lengthAdjust="spacingAndGlyphs" style="stroke-width:0.10px">Schechter</text>
<text x="313.92" y="218.80" font-size="10.80" textLength="41.99" lengthAdjust="spacingAndGlyphs" style="stroke-width:0.10px">function</text>
<text x="256.23" y="230.90" font-size="10.80" textLength="34.45" lengthAdjust="spacingAndGlyphs" style="stroke-width:0.10px">Double</text>
<text x="295.21" y="230.90" font-size="10.80" textLength="31.40" lengthAdjust="spacingAndGlyphs" style="stroke-width:0.10px">Power</text>
<text x="332.25" y="230.90" font-size="10.80" textLength="19.55" lengthAdjust="spacingAndGlyphs" style="stroke-width:0.10px">Law</text>
<text x="256.41" y="242.90" font-size="10.80" textLength="46.99" lengthAdjust="spacingAndGlyphs" style="stroke-width:0.10px">Saunders</text>
<text x="309.98" y="242.90" font-size="10.80" textLength="44.07" lengthAdjust="spacingAndGlyphs" style="stroke-width:0.10px">Function</text>
<text x="256.23" y="254.40" font-size="10.80" textLength="23.09" lengthAdjust="spacingAndGlyphs" style="stroke-width:0.10px">Dark</text>
<text x="285.49" y="254.40" font-size="10.80" textLength="32.33" lengthAdjust="spacingAndGlyphs" style="stroke-width:0.10px">Matter</text>
<text x="323.02" y="254.40" font-size="10.80" textLength="22.75" lengthAdjust="spacingAndGlyphs" style="stroke-width:0.10px">Halo</text>
<text x="350.86" y="254.40" font-size="10.80" textLength="13.40" lengthAdjust="spacingAndGlyphs" style="stroke-width:0.10px">MF</text>
<text x="76.13" y="20.40" font-size="10.60" textLength="44.74" lengthAdjust="spacingAndGlyphs" style="stroke-width:0.15px">Bouwens</text>
<text x="126.66" y="20.40" font-size="10.60" textLength="9.94" lengthAdjust="spacingAndGlyphs" style="stroke-width:0.15px">et</text>
<text x="141.77" y="20.40" font-size="10.60" textLength="12.51" lengthAdjust="spacingAndGlyphs" style="stroke-width:0.15px">al.</text>
<text x="159.46" y="20.40" font-size="10.60" textLength="35.80" lengthAdjust="spacingAndGlyphs" style="stroke-width:0.15px">(2007)</text>
<text x="76.19" y="32.60" font-size="10.60" textLength="20.18" lengthAdjust="spacingAndGlyphs" style="stroke-width:0.15px">This</text>
<text x="101.75" y="32.60" font-size="10.60" textLength="23.35" lengthAdjust="spacingAndGlyphs" style="stroke-width:0.15px">Work</text>
<text x="291.99" y="85.40" font-size="12.00" textLength="6.34" lengthAdjust="spacingAndGlyphs" style="stroke-width:0.15px">z</text>
<text x="298.85" y="88.60" font-size="7.40" textLength="16.40" lengthAdjust="spacingAndGlyphs" style="stroke-width:0.15px">med</text>
<path d="M322.3,82.6 C323.3,79.4 325.3,79.2 326.7,81.0 C328.1,82.9 330.0,82.9 331.1,79.8" fill="none" stroke="#000" stroke-width="1.15"/>
<text x="337.32" y="85.40" font-size="12.00" textLength="19.42" lengthAdjust="spacing" style="stroke-width:0.15px">5.9</text>
<text x="279.82" y="105.40" font-size="12.00" textLength="19.38" lengthAdjust="spacing" style="stroke-width:0.15px">5.7</text>
<path d="M314.2,99.3 L307.4,102.4 L314.2,105.5" fill="none" stroke="#000" stroke-width="1.15"/>
<text x="322.18" y="105.40" font-size="12.00" textLength="6.46" lengthAdjust="spacingAndGlyphs" style="stroke-width:0.15px">z</text>
<path d="M343.1,99.3 L336.1,102.4 L343.1,105.5" fill="none" stroke="#000" stroke-width="1.15"/>
<text x="351.40" y="105.40" font-size="12.00" textLength="19.84" lengthAdjust="spacing" style="stroke-width:0.15px">6.3</text>
<g transform="translate(13.0,206.1) rotate(-90)">
<text x="-0.80" y="0.00" font-size="11.00" textLength="40.19" lengthAdjust="spacingAndGlyphs" style="stroke-width:0.20px">Number</text>
<text x="46.74" y="0.00" font-size="11.00" textLength="22.83" lengthAdjust="spacingAndGlyphs" style="stroke-width:0.20px">mag</text>
<text x="76.84" y="0.00" font-size="11.00" textLength="20.32" lengthAdjust="spacingAndGlyphs" style="stroke-width:0.20px">Mpc</text>
<text x="97.64" y="-4.90" font-size="8.60" textLength="4.97" lengthAdjust="spacingAndGlyphs" style="stroke-width:0.30px">3</text>
<path d="M40.7,2.2 L46.3,-8.9 M70.4,2.4 L76.5,-8.9" fill="none" stroke="#000" stroke-width="1.1"/>
</g>
</svg></div></body></html>
